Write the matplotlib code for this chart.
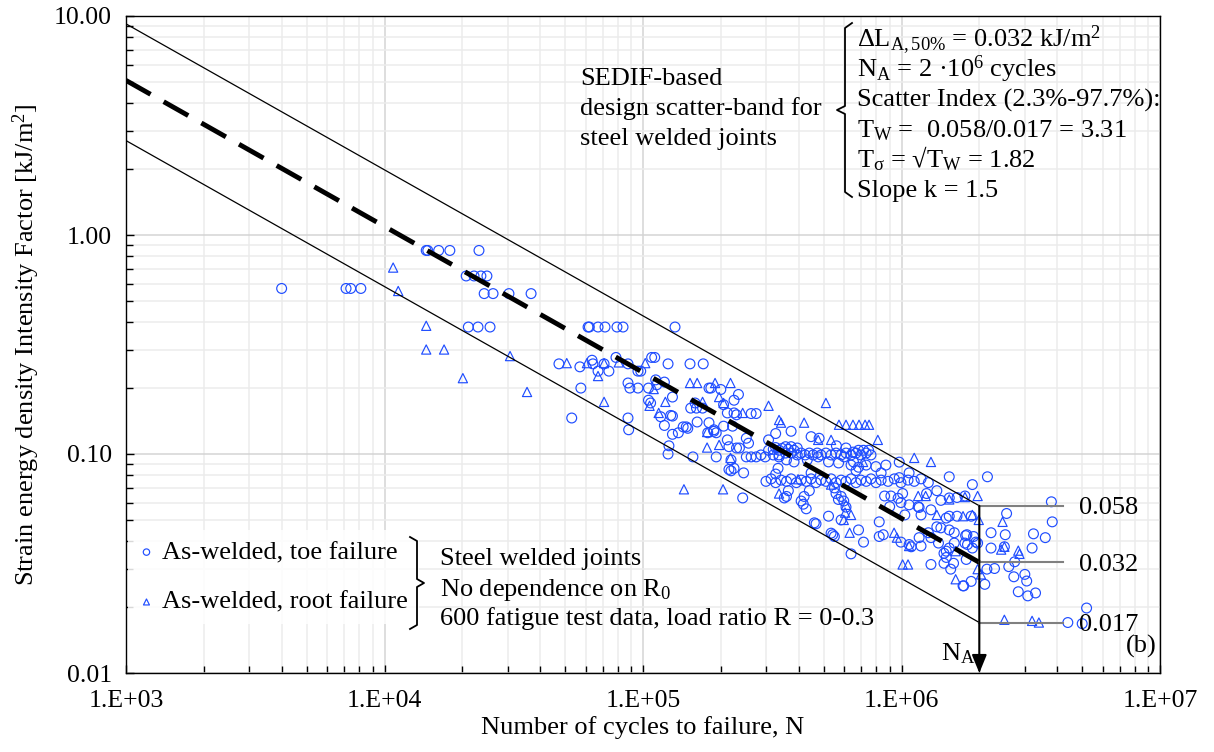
import matplotlib
matplotlib.use("Agg")
import matplotlib.pyplot as plt
from matplotlib.ticker import FixedLocator, LogLocator, FuncFormatter, NullFormatter
import numpy as np

plt.rcParams['font.family'] = ['Liberation Serif', 'DejaVu Serif']
plt.rcParams['mathtext.fontset'] = 'custom'
plt.rcParams['mathtext.rm'] = 'Liberation Serif'
plt.rcParams['mathtext.it'] = 'Liberation Serif:italic'

# design scatter band (from the annotation)
N_A = 2e6
slope_k = 1.5
level_97 = 0.058
level_50 = 0.032
level_02 = 0.017
N_start = 1e3
N_label_end = 4.2e6

# ---- as-welded, toe failure (N, dW) ----
toe_sparse = [(4.0e3, 0.57), (7.1e3, 0.57), (7.4e3, 0.57), (8.1e3, 0.57),
              (1.45e4, 0.85), (1.47e4, 0.85), (1.62e4, 0.85), (1.79e4, 0.85), (2.32e4, 0.85),
              (2.07e4, 0.65), (2.22e4, 0.65), (2.36e4, 0.65), (2.49e4, 0.65),
              (2.43e4, 0.54), (2.63e4, 0.54), (3.03e4, 0.54), (3.69e4, 0.54),
              (2.11e4, 0.38), (2.30e4, 0.38), (2.56e4, 0.38), (4.73e4, 0.258), (5.3e4, 0.146)]

toe_1e5 = [(6.13e4, 0.38), (6.2e4, 0.38), (6.7e4, 0.38), (7.13e4, 0.38), (7.93e4, 0.38), (8.37e4, 0.38), (1.33e5, 0.38),
           (5.7e4, 0.25), (6.35e4, 0.268), (6.4e4, 0.258), (7.07e4, 0.258), (7.38e4, 0.239), (7.86e4, 0.276),
           (8.75e4, 0.258), (9.56e4, 0.239), (1.08e5, 0.276), (1.11e5, 0.276), (1.25e5, 0.258), (1.52e5, 0.258),
           (1.71e5, 0.258), (6.7e4, 0.239), (9.8e4, 0.239),
           (5.75e4, 0.20), (8.75e4, 0.211), (8.9e4, 0.20), (9.56e4, 0.20), (1.05e5, 0.20), (1.12e5, 0.218),
           (1.13e5, 0.207), (1.21e5, 0.213), (1.8e5, 0.20),
           (1.05e5, 0.176), (1.07e5, 0.171), (1.30e5, 0.182), (1.59e5, 0.171), (1.53e5, 0.162), (1.61e5, 0.162),
           (1.70e5, 0.162),
           (8.75e4, 0.146), (8.8e4, 0.129), (1.21e5, 0.135), (1.30e5, 0.149), (1.30e5, 0.123), (1.37e5, 0.125),
           (1.43e5, 0.133), (1.47e5, 0.133), (1.49e5, 0.131), (1.62e5, 0.14), (1.26e5, 0.109), (1.25e5, 0.10),
           (1.56e5, 0.097), (1.17e5, 0.148), (1.28e5, 0.15)]

toe_2e5 = [(1.83e5, 0.20), (2.0e5, 0.197), (2.25e5, 0.176), (2.34e5, 0.187), (2.05e5, 0.168), (2.12e5, 0.154),
           (2.25e5, 0.154), (2.3e5, 0.151), (2.62e5, 0.153), (2.74e5, 0.153),
           (1.8e5, 0.139), (1.88e5, 0.129), (1.92e5, 0.125), (2.05e5, 0.134), (2.22e5, 0.134), (2.12e5, 0.116),
           (2.15e5, 0.108), (2.3e5, 0.1065), (2.36e5, 0.1065), (2.51e5, 0.118), (2.56e5, 0.112),
           (1.92e5, 0.097), (2.19e5, 0.094), (2.19e5, 0.0838), (2.25e5, 0.086), (2.45e5, 0.082), (2.43e5, 0.063),
           (2.15e5, 0.085), (3.06e5, 0.116), (3.26e5, 0.124), (3.74e5, 0.127), (1.78e5, 0.125), (1.88e5, 0.127),
           (4.47e5, 0.12), (4.8e5, 0.118), (5.6e5, 0.109), (6.1e5, 0.1065), (6.5e5, 0.102)]

# dense row of results near 0.1 kJ/m2
band1_N = [2.51e5, 2.62e5, 2.74e5, 2.86e5, 2.97e5, 3.06e5, 3.19e5, 3.26e5, 3.36e5, 3.45e5, 3.56e5,
           3.65e5, 3.74e5, 3.84e5, 3.95e5, 4.09e5, 4.24e5, 4.4e5, 4.55e5, 4.72e5, 4.88e5, 5.1e5,
           5.34e5, 5.58e5, 5.84e5, 6.1e5, 6.38e5, 6.67e5, 6.97e5, 7.3e5, 7.62e5,
           3.19e5, 3.36e5, 3.56e5, 3.74e5, 3.95e5, 6.82e5, 7.13e5, 7.46e5]
band1_W = [0.097, 0.097, 0.097, 0.099, 0.097, 0.104, 0.105, 0.107, 0.104, 0.106, 0.101,
           0.105, 0.101, 0.104, 0.099, 0.101, 0.099, 0.101, 0.099, 0.101, 0.099, 0.101,
           0.099, 0.101, 0.099, 0.101, 0.099, 0.101, 0.099, 0.101, 0.099,
           0.099, 0.099, 0.108, 0.108, 0.1065, 0.104, 0.104, 0.104]

toe_between = [(3.36e5, 0.097), (3.59e5, 0.094), (3.84e5, 0.092), (4.32e5, 0.094), (4.76e5, 0.097),
               (5.22e5, 0.092), (5.71e5, 0.091), (6.0e5, 0.097), (6.52e5, 0.092), (6.82e5, 0.087),
               (6.38e5, 0.089), (7.3e5, 0.089), (7.96e5, 0.0876), (8.7e5, 0.089),
               (3.26e5, 0.081), (3.33e5, 0.086), (4.47e5, 0.082), (6.67e5, 0.084)]

# dense row of results near 0.075 kJ/m2
band2_N = [2.99e5, 3.13e5, 3.26e5, 3.42e5, 3.59e5, 3.74e5, 3.92e5, 4.09e5, 4.28e5, 4.47e5, 4.67e5,
           4.88e5, 5.1e5, 5.34e5, 5.58e5, 5.84e5, 6.1e5, 6.38e5, 6.67e5, 6.97e5, 7.3e5, 7.62e5,
           7.97e5, 8.34e5, 8.87e5, 9.38e5, 9.95e5, 1.06e6, 1.12e6, 1.19e6, 1.27e6]
band2_W = [0.075, 0.077, 0.074, 0.076, 0.075, 0.077, 0.074, 0.076, 0.075, 0.077, 0.074,
           0.076, 0.075, 0.077, 0.074, 0.076, 0.075, 0.077, 0.074, 0.076, 0.075, 0.077,
           0.074, 0.076, 0.075, 0.077, 0.074, 0.076, 0.075, 0.077, 0.074]

toe_lower = [(3.59e5, 0.064), (3.65e5, 0.068), (3.52e5, 0.063), (4.09e5, 0.061), (4.17e5, 0.059), (4.28e5, 0.0562),
             (4.2e5, 0.064), (4.4e5, 0.068), (4.6e5, 0.0485), (5.22e5, 0.052), (5.34e5, 0.0435), (5.5e5, 0.042),
             (6.38e5, 0.035), (6.82e5, 0.045), (5.84e5, 0.064), (5.7e5, 0.062), (5.58e5, 0.066), (6.1e5, 0.0572),
             (5.5e5, 0.07), (5.98e5, 0.061), (5.84e5, 0.05), (4.67e5, 0.048),
             (5.42e5, 0.0428), (7.13e5, 0.0396), (8.2e5, 0.042), (8.5e5, 0.0428), (9.95e5, 0.0396), (1.09e6, 0.0377),
             (1.17e6, 0.0415), (1.19e6, 0.038), (1.27e6, 0.0437), (1.3e6, 0.0415), (1.42e6, 0.046), (1.3e6, 0.0313),
             (1.46e6, 0.0317), (1.49e6, 0.0337), (1.59e6, 0.0317), (1.74e6, 0.025), (1.79e6, 0.0428), (1.8e6, 0.0386),
             (1.39e6, 0.0392), (1.49e6, 0.036),
             (8.34e5, 0.082), (9.8e5, 0.078), (1.07e6, 0.082), (1.37e6, 0.068), (1.53e6, 0.063), (1.64e6, 0.0633),
             (1.76e6, 0.0643), (9.1e5, 0.0643), (9.95e5, 0.060), (1.07e6, 0.0586), (1.16e6, 0.0575), (9.0e5, 0.0575),
             (1.03e6, 0.0527), (1.19e6, 0.0527), (1.53e6, 0.052), (1.64e6, 0.052), (8.2e5, 0.049), (1.07e6, 0.0386),
             (1.37e6, 0.0465), (1.49e6, 0.051), (1.53e6, 0.045), (1.6e6, 0.0437), (1.9e6, 0.042), (1.97e6, 0.0392),
             (1.76e6, 0.0392), (1.6e6, 0.0392), (1.53e6, 0.0372), (1.55e6, 0.0298), (1.86e6, 0.0262),
             (1.53e6, 0.0787), (1.88e6, 0.0725), (9.8e5, 0.0918), (1.42e6, 0.0614), (1.25e6, 0.066), (1.01e6, 0.066),
             (9.7e5, 0.0628), (8.6e5, 0.0643), (1.17e6, 0.057), (1.3e6, 0.0556), (1.86e6, 0.052),
             (1.77e6, 0.0424), (1.94e6, 0.0396), (1.88e6, 0.0372), (1.78e6, 0.033), (1.73e6, 0.025), (1.46e6, 0.0352)]

toe_right = [(2.15e6, 0.0787), (3.8e6, 0.0605), (2.55e6, 0.0535), (3.83e6, 0.049), (2.22e6, 0.0437), (2.52e6, 0.0428),
             (3.24e6, 0.0432), (3.6e6, 0.0415), (2.22e6, 0.0372), (2.5e6, 0.0377), (3.2e6, 0.0372), (2.74e6, 0.0322),
             (2.6e6, 0.0306), (2.29e6, 0.030), (2.14e6, 0.0298), (2.72e6, 0.0275), (3.0e6, 0.0282), (3.05e6, 0.0263),
             (2.83e6, 0.0235), (3.08e6, 0.0225), (3.3e6, 0.0232), (2.1e6, 0.0254), (5.2e6, 0.0198), (4.4e6, 0.017),
             (5.0e6, 0.0168)]

# ---- as-welded, root failure ----
root_low = [(1.08e4, 0.71), (1.13e4, 0.555), (1.45e4, 0.385), (1.45e4, 0.30), (1.7e4, 0.30), (2.01e4, 0.222),
            (3.06e4, 0.28), (3.56e4, 0.192), (5.07e4, 0.26), (6.07e4, 0.26), (6.7e4, 0.227), (7.07e4, 0.26),
            (8.06e4, 0.262), (1.02e5, 0.26), (7.07e4, 0.173), (1.1e5, 0.198), (1.06e5, 0.166), (1.15e5, 0.154),
            (1.22e5, 0.173), (1.7e5, 0.173), (1.52e5, 0.211), (1.62e5, 0.211), (1.77e5, 0.126), (1.77e5, 0.107),
            (1.9e5, 0.211), (2.18e5, 0.211), (1.97e5, 0.182), (2.05e5, 0.171), (2.43e5, 0.154), (3.06e5, 0.166),
            (5.1e5, 0.171), (3.36e5, 0.143), (3.42e5, 0.139), (4.2e5, 0.139), (4.76e5, 0.116), (5.34e5, 0.116),
            (1.97e5, 0.11), (2.18e5, 0.096), (2.04e5, 0.069), (1.44e5, 0.069), (3.36e5, 0.066), (3.98e5, 0.0767)]

root_high = [(5.73e5, 0.136), (6.1e5, 0.136), (6.49e5, 0.136), (6.85e5, 0.136), (7.23e5, 0.136), (7.49e5, 0.136),
             (8.1e5, 0.116), (5.98e5, 0.05), (6.05e5, 0.054), (6.3e5, 0.0437), (6.1e5, 0.0586), (6.38e5, 0.0527),
             (9.36e5, 0.0437), (9.6e5, 0.0415), (1.07e6, 0.038), (1.01e6, 0.0313), (1.06e6, 0.0313), (1.62e6, 0.0268),
             (1.62e6, 0.036), (1.97e6, 0.0643), (1.88e6, 0.0527), (1.73e6, 0.052), (1.97e6, 0.0298), (2.03e6, 0.0282),
             (1.16e6, 0.0643), (1.24e6, 0.0643), (1.12e6, 0.096), (1.3e6, 0.092), (1.53e6, 0.062), (1.76e6, 0.0636),
             (1.37e6, 0.0527), (1.99e6, 0.05), (2.46e6, 0.049), (2.43e6, 0.0366), (2.5e6, 0.0377), (2.83e6, 0.0362),
             (2.86e6, 0.035), (2.5e6, 0.0175), (3.2e6, 0.0173), (3.4e6, 0.017), (5.34e5, 0.0725), (7.1e5, 0.092)]

toe = (toe_sparse + toe_1e5 + toe_2e5 + list(zip(band1_N, band1_W)) + toe_between
       + list(zip(band2_N, band2_W)) + toe_lower + toe_right)
root = root_low + root_high
toe_N, toe_W = zip(*toe)
root_N, root_W = zip(*root)

BLUE = '#1f4dff'
FS = 19

W_PX, H_PX = 1214, 752
AX_L, AX_R, AX_T, AX_B = 126, 1160, 16, 673  # plot area in pixels


def axf(px, py):
    # pixel position in the picture -> axes fraction
    return (px - AX_L) / (AX_R - AX_L), (AX_B - py) / (AX_B - AX_T)


fig = plt.figure(figsize=(W_PX / 100, H_PX / 100), dpi=100)
ax = fig.add_axes([AX_L / W_PX, (H_PX - AX_B) / H_PX, (AX_R - AX_L) / W_PX, (AX_B - AX_T) / H_PX])

ax.set_xscale('log')
ax.set_yscale('log')
ax.set_xlim(1e3, 1e7)
ax.set_ylim(0.01, 10)

# scatter band lines
N_line = np.array([N_start, N_A])
for lvl in (level_97, level_02):
    ax.plot(N_line, lvl * (N_line / N_A) ** (-1 / slope_k), color='black', lw=0.9, zorder=4)
ax.plot(N_line, level_50 * (N_line / N_A) ** (-1 / slope_k), color='black', lw=3.5,
        dashes=(5.8, 3.1), dash_capstyle='butt', zorder=4)

sc_toe = ax.scatter(toe_N, toe_W, s=50, marker='o', facecolors='none', edgecolors=BLUE,
                    linewidths=0.85, zorder=3, label='As-welded, toe failure')
sc_root = ax.scatter(root_N, root_W, s=44, marker='^', facecolors='none', edgecolors=BLUE,
                     linewidths=0.85, zorder=3, label='As-welded, root failure')

# N_A marker lines
for lvl in [level_97, level_50, level_02]:
    ax.plot([N_A, N_label_end], [lvl, lvl], color='#808080', lw=1.5, zorder=4)
ax.annotate('', xy=(N_A, 0.01), xytext=(N_A, level_97),
            arrowprops=dict(arrowstyle='-|>,head_length=1.1,head_width=0.45', color='black',
                            lw=1.5, shrinkA=0, shrinkB=0, mutation_scale=10), zorder=5)
for lvl, txt in [(level_97, '0.058'), (level_50, '0.032'), (level_02, '0.017')]:
    ax.text(4.85e6, lvl, txt, fontsize=FS, va='center_baseline', ha='left', zorder=6)

# axes, ticks, grid
ax.xaxis.set_major_locator(FixedLocator([1e3, 1e4, 1e5, 1e6, 1e7]))
ax.yaxis.set_major_locator(FixedLocator([0.01, 0.1, 1, 10]))
ax.xaxis.set_minor_locator(LogLocator(base=10, subs=range(2, 10), numticks=20))
ax.yaxis.set_minor_locator(LogLocator(base=10, subs=range(2, 10), numticks=20))
ax.xaxis.set_minor_formatter(NullFormatter())
ax.yaxis.set_minor_formatter(NullFormatter())
ax.xaxis.set_major_formatter(FuncFormatter(lambda v, p: '1.E+%02d' % int(round(np.log10(v)))))
ax.yaxis.set_major_formatter(FuncFormatter(lambda v, p: '%.2f' % v))
ax.tick_params(axis='both', which='both', direction='in', width=1, labelsize=18.5)
ax.tick_params(axis='both', which='major', length=6)
ax.tick_params(axis='both', which='minor', length=5)
ax.tick_params(axis='x', pad=12)
ax.tick_params(axis='y', pad=10)
ax.grid(True, which='major', color='#d4d4d4', lw=1.1)
ax.grid(True, which='minor', color='#ececec', lw=1.1)
ax.set_axisbelow(True)
for sp in ax.spines.values():
    sp.set_linewidth(1.0)

ax.set_xlabel('Number of cycles to failure, N', fontsize=FS, labelpad=3)
ax.set_ylabel('Strain energy density Intensity Factor [kJ/m$^{2}$]', fontsize=FS, labelpad=9)

# legend
leg = ax.legend(handles=[sc_toe, sc_root], loc='upper left', bbox_to_anchor=axf(128, 530),
                fontsize=FS, markerscale=0.65, scatterpoints=1, handlelength=0.6, handletextpad=0.3,
                labelspacing=1.0, borderpad=0.4, borderaxespad=0, frameon=True, framealpha=0.85,
                fancybox=False, edgecolor='none')

# brackets
brace_right = [(410, 537), (417, 541), (417, 579), (424, 583), (417, 587), (417, 625), (410, 629)]
brace_left = [(852, 23), (845, 28), (845, 106), (837, 110), (845, 114), (845, 192), (852, 197)]
for pts in (brace_right, brace_left):
    xs, ys = zip(*[axf(px, py) for px, py in pts])
    ax.plot(xs, ys, color='black', lw=1.3, transform=ax.transAxes, clip_on=False, zorder=6)

# text blocks
info_lines = ['ΔL$_{\\mathrm{A,50\\%}}$ = 0.032 kJ/m$^{2}$',
              'N$_{\\mathrm{A}}$ = 2 ·10$^{6}$ cycles',
              'Scatter Index (2.3%-97.7%):',
              'T$_{\\mathrm{W}}$ =  0.058/0.017 = 3.31',
              'T$_{\\mathrm{σ}}$ = √T$_{\\mathrm{W}}$ = 1.82',
              'Slope k = 1.5']
info_base = [47, 77, 107, 137, 167, 197]
for txt, yb in zip(info_lines, info_base):
    ax.text(*axf(857, yb), txt, fontsize=FS, transform=ax.transAxes, va='baseline', ha='left')

band_lines = ['SEDIF-based', 'design scatter-band for', 'steel welded joints']
for txt, yb in zip(band_lines, [85, 115, 145]):
    ax.text(*axf(580, yb), txt, fontsize=FS, transform=ax.transAxes, va='baseline', ha='left')

data_lines = ['Steel welded joints', 'No dependence on R$_{\\mathrm{0}}$',
              '600 fatigue test data, load ratio R = 0-0.3']
for txt, yb in zip(data_lines, [565, 596, 625]):
    ax.text(*axf(440, yb), txt, fontsize=FS, transform=ax.transAxes, va='baseline', ha='left')

ax.text(*axf(975, 660), 'N$_{\\mathrm{A}}$', fontsize=FS, transform=ax.transAxes, va='baseline', ha='right')
ax.text(*axf(1157, 653), '(b)', fontsize=FS, transform=ax.transAxes, va='baseline', ha='right')

fig.savefig('out.png', dpi=100, facecolor='white')
